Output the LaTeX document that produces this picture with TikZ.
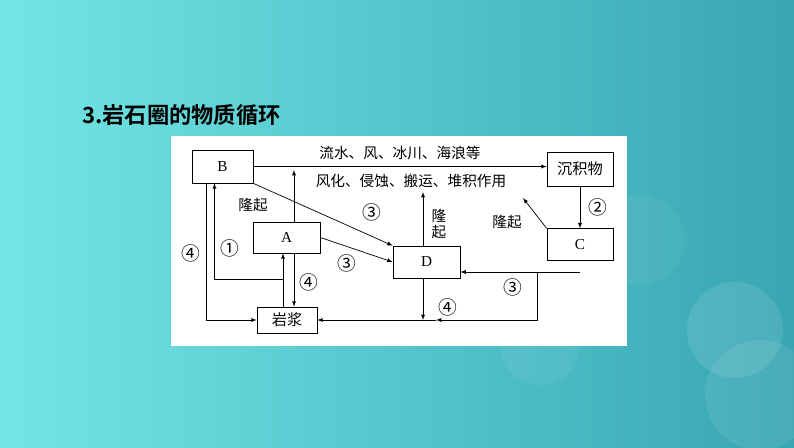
\documentclass[tikz,border=0pt]{standalone}
\usepackage{fontspec}
\setmainfont{Liberation Serif}
\newfontfamily\cjk{Noto Sans CJK SC}[BoldFont={Noto Sans CJK SC Bold}]
\usetikzlibrary{positioning,arrows,calc}
\tikzstyle{rbox}=[rectangle, draw=black, fill=white, line width=0.6pt,
                  inner sep=2pt, text centered, font=\fontsize{13}{15}\selectfont]
\tikzstyle{cbox}=[rbox, font=\cjk\fontsize{13}{15}\selectfont]
\tikzstyle{rline}=[-latex, line width=0.6pt]
\tikzstyle{lbl}=[inner sep=1pt, font=\cjk\fontsize{12.5}{14}\selectfont]
\tikzstyle{lnum}=[inner sep=1pt, font=\cjk\fontsize{16}{18}\selectfont]
\definecolor{bgL}{HTML}{72E6E6}
\definecolor{bgR}{HTML}{38A6B3}
\begin{document}
\begin{tikzpicture}[x=0.03cm, y=-0.03cm]

\useasboundingbox (0,0) rectangle (794,447);
\shade[left color=bgL, right color=bgR] (0,0) rectangle (794,447);
\fill[white, opacity=0.10] (735,330) circle (48);
\fill[white, opacity=0.08] (760,395) circle (55);
\fill[white, opacity=0.06] (540,345) circle (40);
\fill[white, opacity=0.05] (640,240) circle (45);

\node (TTL) [anchor=west, font=\cjk\bfseries\fontsize{19}{22}\selectfont] at (78,115) {3.岩石圈的物质循环};
\fill[white] (171,136) rectangle (627,346);

\node (B) [rbox, minimum width=1.83cm, minimum height=0.99cm] at (222.5,166.5) {B};
\node (A) [rbox, minimum width=2.01cm, minimum height=0.93cm] at (286.5,237.5) {A};
\node (YJ) [cbox, minimum width=1.8cm, minimum height=0.78cm] at (287,320) {岩浆};
\node (D) [rbox, minimum width=2.01cm, minimum height=0.96cm] at (426.5,262) {D};
\node (CJW) [cbox, minimum width=1.98cm, minimum height=1.02cm] at (580,169) {沉积物};
\node (C) [rbox, minimum width=1.98cm, minimum height=0.96cm, below=1.26cm of CJW] {C};

\coordinate (UA) at (294,170);
\coordinate (J1) at (283,279);
\coordinate (UD) at (423,192);
\coordinate (RIN) at (580,272);
\coordinate (RC) at (537,272);
\coordinate (MID) at (436,320);
\coordinate (UC) at (523,198);

 \draw[rline] (B.east) -- (B.east -| CJW.west);
 \draw[rline] (A.north -| UA) -- (UA);
 \draw[rline] (B.south east) -- (D.north west);
 \draw[rline] (A.east) -- (D.west);
 \draw[rline] (YJ.north -| J1) -- (A.south -| J1);
 \draw[rline] (J1) -| ($(B.south)+(-8,0)$);
 \draw[rline] ($(B.south)+(-16,0)$) |- (YJ.west);
 \draw[rline] (A.south -| UA) -- (YJ.north -| UA);
 \draw[rline] (D.north -| UD) -- (UD);
 \draw[rline] (D.south -| UD) -- (UD |- YJ.east);
 \draw[rline] (RIN) -- (RIN -| D.east);
 \draw[rline] (RC) |- (MID);
 \draw[rline] (MID) -- (YJ.east);
 \draw[rline] (CJW.south) -- (C.north);
 \draw[rline] (C.north west) -- (UC);

\node (LTOP) [lbl] at (400,153) {流水、风、冰川、海浪等};
\node (LBOT) [lbl] at (411,181) {风化、侵蚀、搬运、堆积作用};
\node (LUA) [lbl] at (253,205) {隆起};
\node (L3a) [lnum] at (372,212) {③};
\node (L3b) [lnum] at (347,263) {③};
\node (L1) [lnum] at (230,248) {①};
\node (L4a) [lnum] at (191,253) {④};
\node (L4b) [lnum] at (309,282) {④};
\node (LUD) [lbl, align=center, font=\cjk\fontsize{12.5}{13}\selectfont] at (439,224) {隆\\起};
\node (L4c) [lnum] at (448,307) {④};
\node (L3c) [lnum] at (513,287) {③};
\node (L2) [lnum] at (598,207) {②};
\node (LUC) [lbl] at (507,222) {隆起};

\end{tikzpicture}
\end{document}
